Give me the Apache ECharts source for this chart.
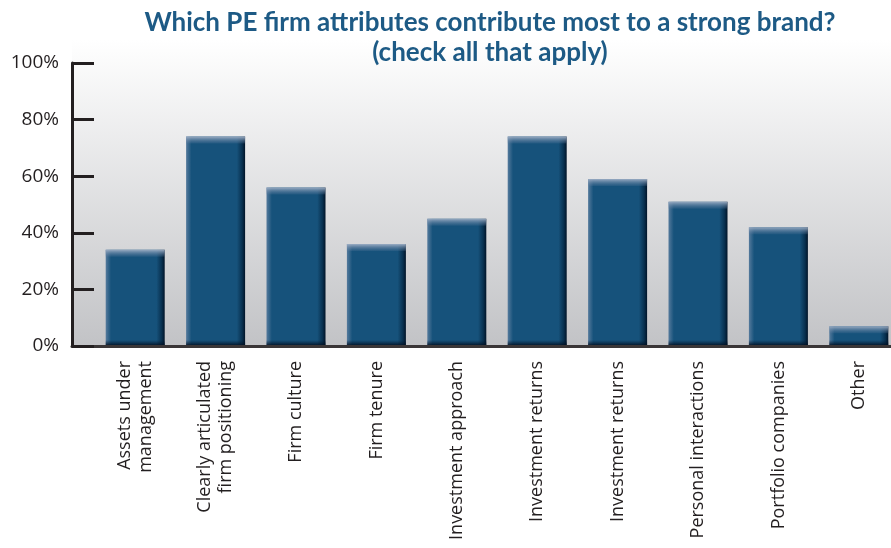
<!DOCTYPE html>
<html>
<head>
<meta charset="utf-8">
<script src="https://cdn.jsdelivr.net/npm/echarts@6/dist/echarts.min.js"></script>
<style>
  html, body { margin: 0; padding: 0; background: #fff; }
  #chart { width: 891px; height: 548px; }
</style>
</head>
<body>
<div id="chart"></div>
<script>
var categories = [
  'Assets under\nmanagement',
  'Clearly articulated\nfirm positioning',
  'Firm culture',
  'Firm tenure',
  'Investment approach',
  'Investment returns',
  'Investment returns',
  'Personal interactions',
  'Portfolio companies',
  'Other'
];
var values = [34, 74, 56, 36, 45, 74, 59, 51, 42, 7];
var yTicks = [0, 20, 40, 60, 80, 100];

var chart = echarts.init(document.getElementById('chart'));

var barColor = '#16527b';

function renderBar(params, api) {
  var top = api.coord([api.value(0), api.value(1)]);
  var base = api.coord([api.value(0), 0]);
  var w = 59;
  var x = top[0] - w / 2;
  var h = base[1] - top[1];
  var side = new echarts.graphic.LinearGradient(0, 0, 1, 0, [
    { offset: 0, color: '#557a9c' },
    { offset: 0.09, color: barColor },
    { offset: 0.86, color: barColor },
    { offset: 0.95, color: '#08304f' },
    { offset: 1, color: '#011428' }
  ]);
  var topBand = Math.min(7, h / 2);
  return {
    type: 'group',
    children: [
      { type: 'rect', shape: { x: x, y: top[1], width: w, height: h }, style: { fill: side } },
      {
        type: 'rect',
        shape: { x: x, y: top[1], width: w, height: topBand },
        style: {
          fill: new echarts.graphic.LinearGradient(0, 0, 0, 1, [
            { offset: 0, color: 'rgba(160,176,198,0.95)' },
            { offset: 1, color: 'rgba(90,120,155,0.2)' }
          ])
        }
      },
      {
        type: 'rect',
        shape: { x: x, y: base[1] - 6, width: w, height: 6 },
        style: {
          fill: new echarts.graphic.LinearGradient(0, 0, 0, 1, [
            { offset: 0, color: 'rgba(2,25,50,0)' },
            { offset: 1, color: 'rgba(1,15,32,1)' }
          ])
        }
      }
    ]
  };
}

var option = {
  animation: false,
  title: {
    text: 'Which PE firm attributes contribute most to a strong brand?\n(check all that apply)',
    left: 485,
    textAlign: 'center',
    top: 3,
    textStyle: {
      fontFamily: 'Lato',
      fontWeight: 'bold',
      fontSize: 26,
      lineHeight: 30,
      color: '#1d5a85'
    }
  },
  grid: [
    {
      left: 95, top: 63, width: 804, bottom: 202,
      outerBoundsMode: 'none',
      containLabel: false
    },
    {
      left: 72, top: 40, right: 0, bottom: 202,
      outerBoundsMode: 'none',
      show: true,
      borderWidth: 0,
      backgroundColor: new echarts.graphic.LinearGradient(0, 0, 0, 1, [
        { offset: 0, color: '#ffffff' },
        { offset: 1, color: '#c2c3c6' }
      ])
    }
  ],
  xAxis: [
    {
      type: 'category',
      gridIndex: 0,
      data: categories,
      axisLine: { show: false },
      axisTick: { show: false },
      axisLabel: {
        rotate: 90,
        margin: 15,
        fontFamily: 'Open Sans',
        fontSize: 18,
        lineHeight: 21,
        color: '#231f20',
        interval: 0
      }
    },
    {
      type: 'category',
      gridIndex: 1,
      data: [''],
      axisLine: { show: true, lineStyle: { color: '#3a3637', width: 3 } },
      axisTick: { show: false },
      axisLabel: { show: false },
      z: 5
    }
  ],
  yAxis: [
    {
      type: 'value',
      gridIndex: 0,
      min: 0,
      max: 100,
      interval: 20,
      offset: 23,
      axisLine: { show: true, lineStyle: { color: '#231f20', width: 3 } },
      axisTick: { show: true, inside: true, length: 22, lineStyle: { color: '#231f20', width: 3 } },
      splitLine: { show: false },
      axisLabel: {
        margin: 13,
        fontFamily: 'Open Sans',
        fontSize: 19,
        color: '#231f20',
        formatter: function (v) { return yTicks.indexOf(v) >= 0 ? v + '%' : ''; }
      },
      z: 6
    },
    {
      type: 'value',
      gridIndex: 1,
      show: false
    }
  ],
  series: [
    {
      type: 'custom',
      xAxisIndex: 0,
      yAxisIndex: 0,
      data: values.map(function (v, i) { return [i, v]; }),
      renderItem: renderBar,
      z: 3
    }
  ]
};

chart.setOption(option);
</script>
</body>
</html>
